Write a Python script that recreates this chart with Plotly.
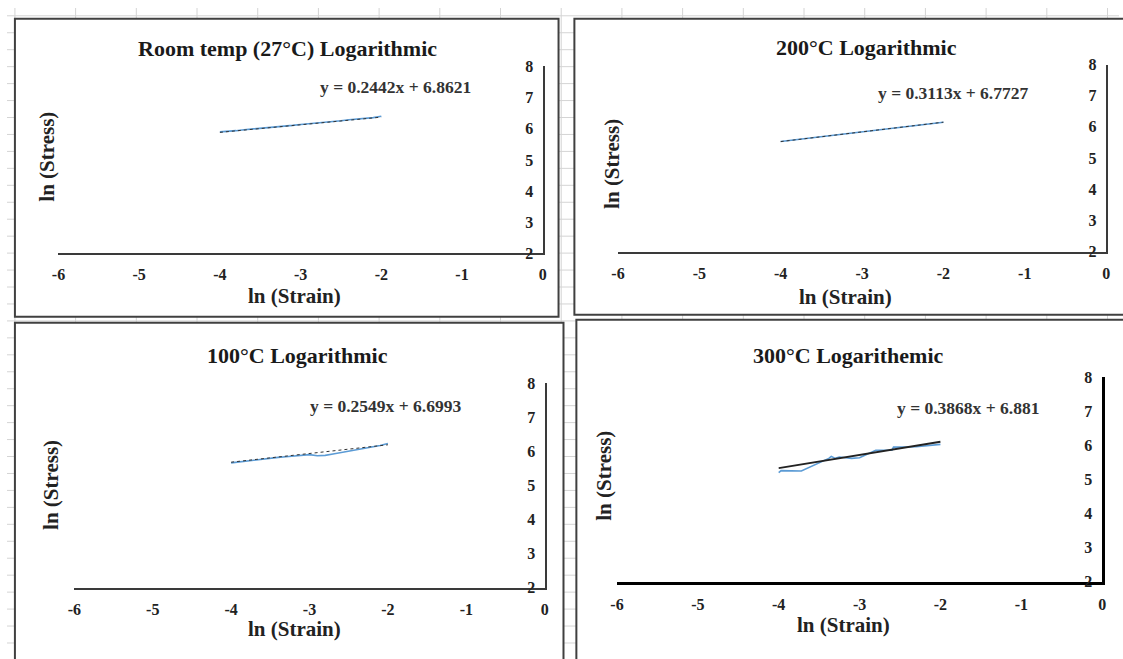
import plotly.graph_objects as go

W, H = 1123, 659

# ---------------- data ----------------
titles = ["Room temp (27°C) Logarithmic", "200°C Logarithmic",
          "100°C Logarithmic", "300°C Logarithemic"]
equations = ["y = 0.2442x + 6.8621", "y = 0.3113x + 6.7727",
             "y = 0.2549x + 6.6993", "y = 0.3868x + 6.881"]
slopes = [0.2442, 0.3113, 0.2549, 0.3868]
intercepts = [6.8621, 6.7727, 6.6993, 6.881]
x_title = "ln (Strain)"
y_title = "ln (Stress)"
x_ticks = [-6, -5, -4, -3, -2, -1, 0]
x_ticktext = ["-6", "-5", "-4", "-3", "-2", "-1", "0"]
y_ticks = [2, 3, 4, 5, 6, 7, 8]
y_ticktext = ["2", "3", "4", "5", "6", "7", "8"]

strain_27 = [-4.0, -3.9, -3.8, -3.7, -3.6, -3.5, -3.4, -3.3, -3.2, -3.1, -3.0,
             -2.9, -2.8, -2.7, -2.6, -2.5, -2.4, -2.3, -2.2, -2.1, -2.0]
stress_27 = [5.90, 5.91, 5.94, 5.97, 5.99, 6.01, 6.04, 6.07, 6.09, 6.11, 6.14,
             6.16, 6.19, 6.21, 6.23, 6.26, 6.29, 6.31, 6.33, 6.36, 6.40]

strain_200 = [-4.0, -3.9, -3.8, -3.7, -3.6, -3.5, -3.4, -3.3, -3.2, -3.1, -3.0,
              -2.9, -2.8, -2.7, -2.6, -2.5, -2.4, -2.3, -2.2, -2.1, -2.0]
stress_200 = [5.53, 5.56, 5.59, 5.62, 5.65, 5.68, 5.71, 5.74, 5.77, 5.80, 5.83,
              5.86, 5.89, 5.92, 5.95, 5.98, 6.01, 6.04, 6.07, 6.11, 6.15]

strain_100 = [-4.0, -3.9, -3.8, -3.7, -3.6, -3.5, -3.4, -3.3, -3.2, -3.1, -3.0,
              -2.9, -2.8, -2.7, -2.6, -2.5, -2.4, -2.3, -2.2, -2.1, -2.0]
stress_100 = [5.66, 5.69, 5.71, 5.74, 5.77, 5.79, 5.82, 5.84, 5.86, 5.88, 5.90,
              5.87, 5.88, 5.92, 5.96, 6.00, 6.04, 6.08, 6.12, 6.17, 6.23]

strain_300 = [-4.00, -3.97, -3.72, -3.60, -3.45, -3.38, -3.35, -3.30, -3.25,
              -3.10, -3.00, -2.85, -2.80, -2.60, -2.58, -2.30, -2.00]
stress_300 = [5.20, 5.26, 5.25, 5.38, 5.55, 5.62, 5.68, 5.62, 5.66,
              5.62, 5.64, 5.82, 5.86, 5.86, 5.95, 5.96, 6.03]

series_x = [strain_27, strain_200, strain_100, strain_300]
series_y = [stress_27, stress_200, stress_100, stress_300]

# ---------------- layout helpers (page pixel -> paper fraction) ----------------
def px(x):
    return x / W

def py(y):
    return 1 - y / H

# plot-area pixel boxes: (x at -6, x at 0, y at 2, y at 8)
boxes = [(52, 541, 252, 60), (617, 1110, 250, 58),
         (68, 543, 595, 385), (616, 1106, 589, 379)]
frames = [(8, 11, 557, 317), (573, 11, 1135, 315),
          (8, 323, 562, 675), (575, 320, 1135, 675)]
title_pos = [(283, 42), (868, 41), (293, 357), (850, 357)]
eq_pos = [(392, 81), (955, 87), (382, 409), (971, 411)]
ytitle_pos = [(40, 153), (611, 160), (45, 490), (603, 480)]
xtitle_pos = [(290, 296), (847, 297), (290, 637), (845, 633)]

SERIF = "Liberation Serif, Times New Roman, serif"
BLUE = "#5B9BD5"

fig = go.Figure()
shapes = []

# spreadsheet gridlines behind the charts
gx = 8.0
while gx < W:
    shapes.append(dict(type="line", xref="paper", yref="paper",
                       x0=px(gx), x1=px(gx), y0=0, y1=1,
                       line=dict(color="#d4d4d4", width=1), layer="below"))
    gx += 61.3
gy = 8.0
while gy < H:
    shapes.append(dict(type="line", xref="paper", yref="paper",
                       x0=0, x1=1, y0=py(gy), y1=py(gy),
                       line=dict(color="#d4d4d4", width=1), layer="below"))
    gy += 17.4

# chart frames
for (x0, y0, x1, y1) in frames:
    shapes.append(dict(type="rect", xref="paper", yref="paper",
                       x0=px(x0), x1=px(x1), y0=py(y1), y1=py(y0),
                       fillcolor="white", line=dict(color="#404040", width=2),
                       layer="below"))

annotations = []
for i in range(4):
    n = "" if i == 0 else str(i + 1)
    xa = "x" + n
    ya = "y" + n
    bx0, bx1, by0, by1 = boxes[i]
    axis_w = 3 if i == 3 else 1.5
    axis_c = "black" if i == 3 else "#3a3a3a"

    fig.add_trace(go.Scatter(x=series_x[i], y=series_y[i], mode="lines",
                             line=dict(color=BLUE, width=1.6),
                             xaxis=xa, yaxis=ya, showlegend=False))
    tx = [series_x[i][0], series_x[i][-1]]
    ty = [slopes[i] * v + intercepts[i] for v in tx]
    if i == 3:
        tl = dict(color="#222222", width=1.8)
    else:
        tl = dict(color="#333333", width=1, dash="dot")
    fig.add_trace(go.Scatter(x=tx, y=ty, mode="lines", line=tl,
                             xaxis=xa, yaxis=ya, showlegend=False))

    tickfont = dict(family=SERIF, size=16, color="#222", weight="bold")
    fig.layout["xaxis" + n] = dict(
        domain=[px(bx0), px(bx1)], range=[-6, 0], anchor=ya,
        tickvals=x_ticks, ticktext=x_ticktext, ticks="outside", ticklen=6,
        tickcolor="rgba(0,0,0,0)", tickfont=tickfont,
        ticklabeloverflow="allow",
        showline=True, linecolor=axis_c, linewidth=axis_w,
        showgrid=False, zeroline=False, fixedrange=True)
    fig.layout["yaxis" + n] = dict(
        domain=[py(by0), py(by1)], range=[2, 8], anchor=xa, side="right",
        tickvals=y_ticks, ticktext=y_ticktext, ticks="inside", ticklen=10,
        tickcolor="rgba(0,0,0,0)", ticklabelposition="inside",
        ticklabeloverflow="allow", tickfont=tickfont,
        showline=True, linecolor=axis_c, linewidth=axis_w,
        showgrid=False, zeroline=False, fixedrange=True)

    annotations.append(dict(xref="paper", yref="paper",
                            x=px(title_pos[i][0]), y=py(title_pos[i][1]),
                            text=titles[i], showarrow=False,
                            xanchor="center", yanchor="middle",
                            font=dict(family=SERIF, size=22, color="#1a1a1a",
                                      weight="bold")))
    annotations.append(dict(xref="paper", yref="paper",
                            x=px(eq_pos[i][0]), y=py(eq_pos[i][1]),
                            text=equations[i], showarrow=False,
                            xanchor="center", yanchor="middle",
                            font=dict(family=SERIF, size=17.5, color="#333",
                                      weight="bold")))
    annotations.append(dict(xref="paper", yref="paper",
                            x=px(ytitle_pos[i][0]), y=py(ytitle_pos[i][1]),
                            text=y_title, showarrow=False, textangle=-90,
                            xanchor="center", yanchor="middle",
                            font=dict(family=SERIF, size=21, color="#222",
                                      weight="bold")))
    annotations.append(dict(xref="paper", yref="paper",
                            x=px(xtitle_pos[i][0]), y=py(xtitle_pos[i][1]),
                            text=x_title, showarrow=False,
                            xanchor="center", yanchor="middle",
                            font=dict(family=SERIF, size=21, color="#222",
                                      weight="bold")))

fig.update_layout(width=W, height=H, margin=dict(l=0, r=0, t=0, b=0),
                  paper_bgcolor="white", plot_bgcolor="rgba(0,0,0,0)",
                  shapes=shapes, annotations=annotations, showlegend=False)

fig.write_html("out.html", config={"displayModeBar": False},
               post_script="document.body.style.margin='0';"
                           "document.body.style.overflow='hidden';")
